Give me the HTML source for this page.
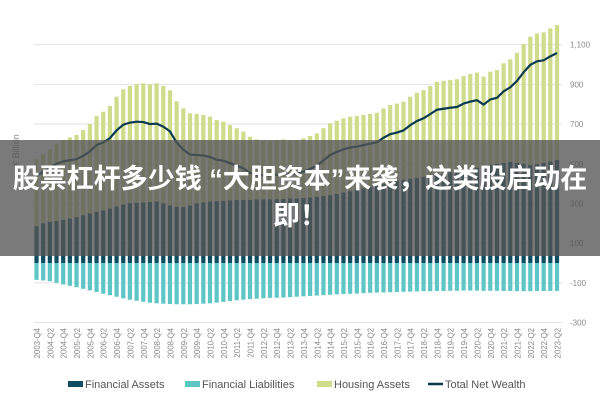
<!DOCTYPE html>
<html><head><meta charset="utf-8"><style>
body{margin:0;background:#fff;width:600px;height:400px;overflow:hidden;position:relative;font-family:"Liberation Sans","Noto Sans CJK SC",sans-serif}
#banner{position:absolute;left:0;top:140px;width:600px;height:116px;background:rgba(85,85,85,0.78);color:#fff;font-weight:bold;font-size:27px;line-height:37px;text-align:center;padding-top:21px;box-sizing:border-box;font-family:"Liberation Sans","Noto Sans CJK SC",sans-serif;white-space:nowrap}
</style></head><body>
<svg id="chart" width="600" height="400" style="position:absolute;left:0;top:0"></svg>
<div id="banner">股票杠杆多少钱 “大胆资本”来袭，这类股启动在<br>即！</div>
<script>
const assets=[186,200,208,212,218,225,232,240,250,258,265,275,285,295,301,303,305,308,310,300,290,284,282,290,300,306,310,312,314,316,318,318,318,320,320,321,322,323,325,326,328,330,334,338,342,348,355,362,370,376,384,392,400,408,415,420,425,430,435,440,445,450,458,465,470,468,480,490,495,500,505,510,505,500,495,498,505,512,519];
const housing=[336,349,365,388,402,408,413,430,450,482,497,516,553,580,591,599,600,592,595,592,580,531,497,464,451,440,427,408,398,379,361,344,318,303,300,296,298,300,295,294,300,310,319,341,362,369,374,375,370,370,367,365,379,388,388,393,413,428,436,452,468,468,464,461,472,484,479,448,469,472,501,516,554,603,645,659,657,670,680];
const liabilities=[-85,-88,-92,-100,-108,-115,-122,-130,-138,-146,-155,-162,-170,-178,-185,-190,-195,-200,-203,-205,-207,-208,-208,-208,-207,-205,-203,-200,-196,-192,-188,-185,-182,-180,-178,-176,-175,-174,-172,-170,-168,-166,-164,-162,-160,-158,-156,-155,-154,-152,-150,-149,-148,-147,-146,-145,-144,-143,-142,-142,-141,-141,-140,-140,-139,-139,-139,-140,-140,-140,-141,-141,-142,-142,-142,-141,-141,-141,-141];
const yTicks=[1100,900,700,500,300,100,-100,-300];
const yTickLabels=["1,100","900","700","500","300","100","-100","-300"];
const startYear=2003,startQ=4;
const NS="http://www.w3.org/2000/svg";
const svg=document.getElementById('chart');
const n=assets.length;
function y(v){return 263-v*0.1985;}
function x(i){return 36.5+i*(557-36.5)/(n-1);}
function mk(t,a){const e=document.createElementNS(NS,t);for(const k in a)e.setAttribute(k,a[k]);svg.appendChild(e);return e;}
yTicks.forEach((v,i)=>{
 const g=mk('line',{x1:34,x2:562,y1:y(v),y2:y(v),stroke:'#e2e2e2','stroke-width':1});
 
 
 const t=mk('text',{x:570,y:y(v)+3,'font-size':8,fill:'#888'});
 t.textContent=yTickLabels[i];
 
 
});
const yt=mk('text',{x:0,y:0,'font-size':9,fill:'#888',transform:'translate(19,150) rotate(-90)','text-anchor':'middle'});
yt.textContent='€ Billion';


const bw=4.2;
const net=[];
for(let i=0;i<n;i++){
 const cx=x(i);
 const a=mk('rect',{x:cx-bw/2,y:y(assets[i]),width:bw,height:y(0)-y(assets[i]),fill:'#0e4d5f'});
 
 
 const h=mk('rect',{x:cx-bw/2,y:y(assets[i]+housing[i]),width:bw,height:y(assets[i])-y(assets[i]+housing[i]),fill:'#cfdc8c'});
 
 
 const l=mk('rect',{x:cx-bw/2,y:y(0),width:bw,height:y(liabilities[i])-y(0),fill:'#5fc6c6'});
 
 
 net.push(assets[i]+housing[i]+liabilities[i]);
 if(i%2===0){
  const q=startQ-1+i;const yr=startYear+Math.floor(q/4);const qq=q%4+1;
  const t=mk('text',{x:0,y:0,'font-size':7.8,fill:'#888','text-anchor':'end',transform:`translate(${cx+3.5},328) rotate(-90)`});
  t.textContent=yr+'-Q'+qq;
  
  
 }
}
const pl=mk('polyline',{points:net.map((v,i)=>x(i)+','+y(v)).join(' '),fill:'none',stroke:'#0b3a4e','stroke-width':2.2,'stroke-linejoin':'round'});


const leg=[['Financial Assets','#0e4d5f',68,'rect'],['Financial Liabilities','#5fc6c6',185,'rect'],['Housing Assets','#cfdc8c',317,'rect'],['Total Net Wealth','#0b3a4e',428,'line']];
leg.forEach(d=>{
 let s;
 if(d[3]==='rect')s=mk('rect',{x:d[2],y:381,width:15,height:6,fill:d[1]});
 else s=mk('line',{x1:d[2],x2:d[2]+15,y1:384,y2:384,stroke:d[1],'stroke-width':2.5});
 
 
 const t=mk('text',{x:d[2]+17,y:388,'font-size':11,fill:'#555'});
 t.textContent=d[0];
 
 
});
</script>
</body></html>
